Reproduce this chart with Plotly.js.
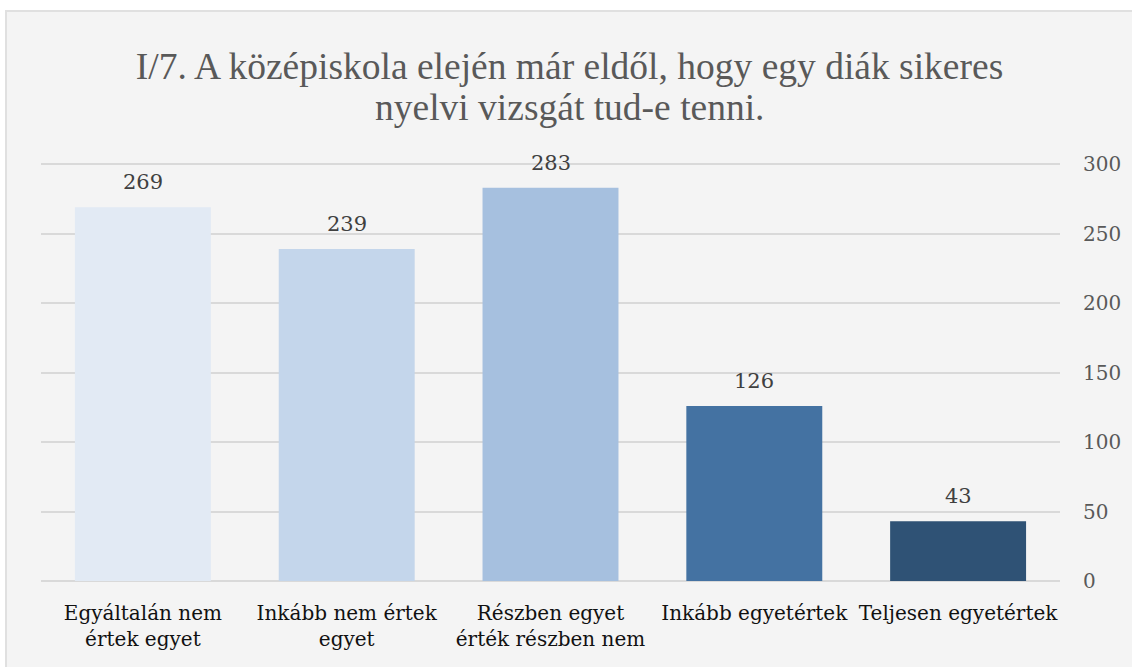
<!DOCTYPE html>
<html>
<head>
<meta charset="utf-8">
<script src="https://cdn.plot.ly/plotly-3.0.1.min.js"></script>
<style>
  html, body { margin: 0; padding: 0; background: #ffffff; width: 1132px; height: 667px; overflow: hidden; }
  #frame { position: absolute; left: 5px; top: 10px; width: 1127px; height: 657px; border-left: 2px solid #e0e0e0; border-top: 2px solid #e0e0e0; background: #f4f4f4; }
  #chart { position: absolute; left: 0; top: 0; width: 1125px; height: 655px; }
</style>
</head>
<body>
<div id="frame"><div id="chart"></div></div>
<script>
const categories = [
  "Egyáltalán nem<br>értek egyet",
  "Inkább nem értek<br>egyet",
  "Részben egyet<br>érték részben nem",
  "Inkább egyetértek",
  "Teljesen egyetértek"
];
const values = [269, 239, 283, 126, 43];
const barColors = ["#e2eaf4", "#c4d6eb", "#a6c0df", "#4472a2", "#2f5275"];
const titleLine1 = "I/7. A középiskola elején már eldől, hogy egy diák sikeres";
const titleLine2 = "nyelvi vizsgát tud-e tenni.";
const yTicks = [0, 50, 100, 150, 200, 250, 300];

const serif = "DejaVu Serif";
const titleFont = { family: "Liberation Serif", size: 37.5, color: "#595959" };

const trace = {
  type: "bar",
  x: categories,
  y: values,
  marker: { color: barColors, line: { width: 0 } },
  hoverinfo: "x+y"
};

const annotations = categories.map((c, i) => ({
  x: c, y: values[i], xref: "x", yref: "y",
  text: String(values[i]),
  showarrow: false, yanchor: "bottom", yshift: 11,
  font: { family: serif, size: 21, color: "#404040" }
}));

annotations.push({
  text: titleLine2,
  xref: "paper", yref: "paper",
  x: 0.5, y: 1, xanchor: "center", yanchor: "middle",
  xshift: 19, yshift: 53,
  showarrow: false,
  font: titleFont
});

const layout = {
  width: 1125, height: 655,
  paper_bgcolor: "#f4f4f4",
  plot_bgcolor: "#f4f4f4",
  margin: { l: 34, r: 72, t: 148, b: 86, pad: 0 },
  title: {
    text: titleLine1,
    font: titleFont,
    x: 0.5, xanchor: "center", xref: "container",
    y: 1 - 54 / 655, yanchor: "middle", yref: "container"
  },
  bargap: 0.333,
  showlegend: false,
  xaxis: {
    type: "category",
    showgrid: false,
    zeroline: false,
    showline: false,
    ticks: "",
    ticklabelstandoff: 18,
    tickfont: { family: serif, size: 20, color: "#111111" }
  },
  yaxis: {
    side: "right",
    range: [0, 303],
    tickvals: yTicks,
    showgrid: true,
    gridcolor: "#d9d9d9",
    gridwidth: 2,
    zeroline: true,
    zerolinecolor: "#d9d9d9",
    zerolinewidth: 2,
    showline: false,
    ticks: "",
    ticklabelstandoff: 22,
    tickfont: { family: serif, size: 20, color: "#595959" }
  },
  annotations: annotations
};

Plotly.newPlot("chart", [trace], layout, { displayModeBar: false, staticPlot: true });
</script>
</body>
</html>
